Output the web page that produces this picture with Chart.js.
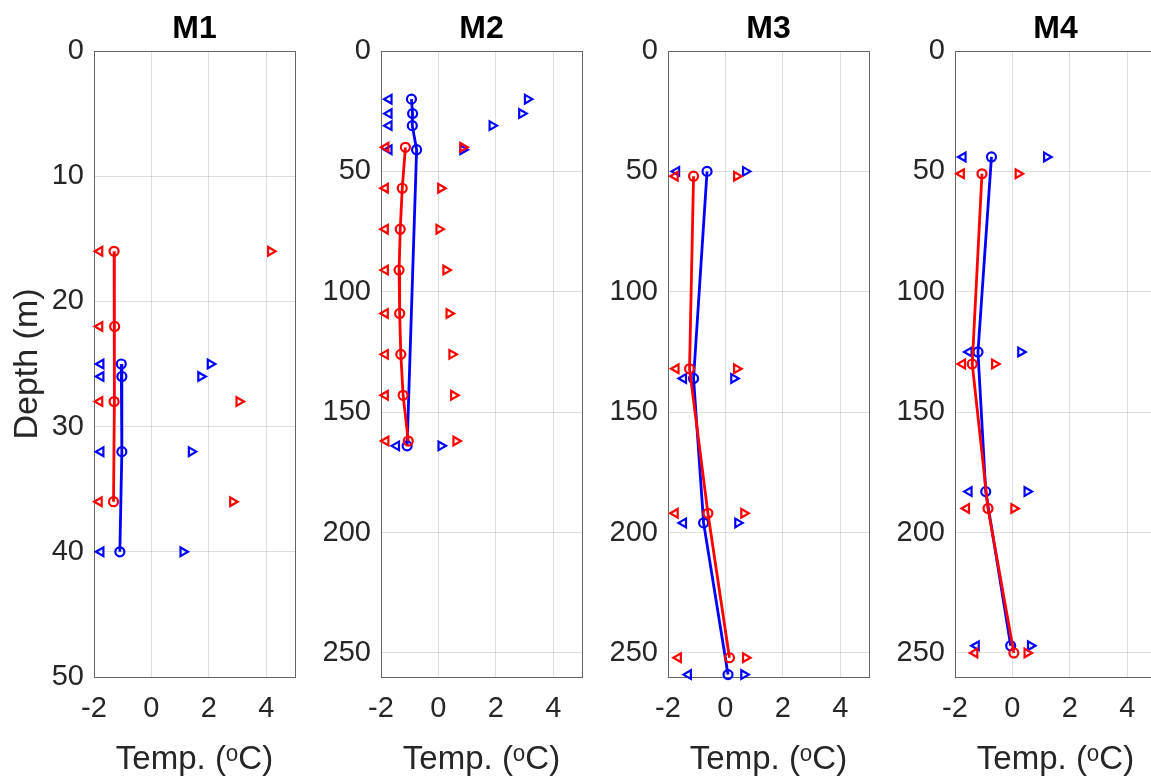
<!DOCTYPE html>
<html>
<head>
<meta charset="utf-8">
<script src="https://cdn.jsdelivr.net/npm/chart.js"></script>
<style>
  html, body { margin: 0; padding: 0; background: #fff; overflow: hidden; }
  #wrap { position: relative; width: 1151px; height: 780px; overflow: hidden; }
  canvas { position: absolute; top: 0; }
</style>
</head>
<body>
<div id="wrap">
  <canvas id="m1"></canvas>
  <canvas id="m2"></canvas>
  <canvas id="m3"></canvas>
  <canvas id="m4"></canvas>
</div>
<script>
// depth (m) and temperature (degC)
const m1RedDepth = [16, 22, 28, 36];
const m1RedMean = [-1.3, -1.28, -1.3, -1.32];
const m1RedMin = [-1.8, -1.8, -1.8, -1.82];
const m1RedMax = [4.15, null, 3.05, 2.83];
const m1BlueDepth = [25, 26, 32, 40];
const m1BlueMean = [-1.05, -1.03, -1.03, -1.1];
const m1BlueMin = [-1.76, -1.76, -1.76, -1.76];
const m1BlueMax = [2.05, 1.72, 1.39, 1.1];

const m2RedDepth = [40, 57, 74, 91, 109, 126, 143, 162];
const m2RedMean = [-1.15, -1.26, -1.33, -1.37, -1.35, -1.31, -1.23, -1.05];
const m2RedMin = [-1.83, -1.85, -1.85, -1.85, -1.85, -1.85, -1.85, -1.83];
const m2RedMax = [0.85, 0.08, 0.02, 0.26, 0.37, 0.47, 0.53, 0.61];
const m2BlueDepth = [20, 26, 31, 41, 164];
const m2BlueMean = [-0.94, -0.9, -0.91, -0.76, -1.09];
const m2BlueMin = [-1.72, -1.72, -1.72, -1.72, -1.46];
const m2BlueMax = [3.1, 2.9, 1.87, 0.85, 0.09];

const m3RedDepth = [52, 132, 192, 252];
const m3RedMean = [-1.11, -1.25, -0.61, 0.14];
const m3RedMin = [-1.75, -1.72, -1.75, -1.64];
const m3RedMax = [0.39, 0.39, 0.64, 0.7];
const m3BlueDepth = [50, 136, 196, 259];
const m3BlueMean = [-0.64, -1.11, -0.76, 0.09];
const m3BlueMin = [-1.7, -1.46, -1.46, -1.29];
const m3BlueMax = [0.7, 0.29, 0.43, 0.64];

const m4RedDepth = [51, 130, 190, 250];
const m4RedMean = [-1.06, -1.4, -0.85, 0.05];
const m4RedMin = [-1.78, -1.74, -1.6, -1.31];
const m4RedMax = [0.2, -0.62, 0.05, 0.51];
const m4BlueDepth = [44, 125, 183, 247];
const m4BlueMean = [-0.73, -1.2, -0.93, -0.06];
const m4BlueMin = [-1.72, -1.51, -1.51, -1.26];
const m4BlueMax = [1.19, 0.29, 0.51, 0.63];

const xTicks = [-2, 0, 2, 4];
const m1DepthTicks = [0, 10, 20, 30, 40, 50];
const deepTicks = [0, 50, 100, 150, 200, 250];

const RED = "#ff0000";
const BLUE = "#0000ff";
const FONT = "'Liberation Sans', Arial, Helvetica, sans-serif";
const TEXT = "#262626";

const pts = (xs, ys) => xs.map((x, i) => ({ x, y: ys[i] })).filter(p => p.x !== null);

function lineSet(xs, ys, color) {
  return {
    data: pts(xs, ys), showLine: true, borderColor: color, borderWidth: 2.8,
    pointStyle: "circle", pointRadius: 4.5, pointBorderWidth: 2.2,
    pointBorderColor: color, pointBackgroundColor: "rgba(0,0,0,0)", clip: false
  };
}
function triSet(xs, ys, color, rot) {
  return {
    data: pts(xs, ys), showLine: false, pointStyle: "triangle", pointRotation: rot,
    pointRadius: 5, pointBorderWidth: 2.2, pointBorderColor: color,
    pointBackgroundColor: "rgba(0,0,0,0)", clip: false
  };
}

// box around each axes like MATLAB "box on"
const boxPlugin = {
  id: "box",
  beforeDatasetsDraw(chart) {
    const a = chart.chartArea, c = chart.ctx;
    c.save();
    c.strokeStyle = "#666666";
    c.lineWidth = 1;
    c.strokeRect(Math.round(a.left) + 0.5, Math.round(a.top) + 0.5,
                 Math.round(a.right - a.left), Math.round(a.bottom - a.top));
    c.restore();
  }
};

const panels = [
  { id: "m1", title: "M1", plotLeft: 94, axisW: 94, ymax: 50, yticks: m1DepthTicks, ytitle: "Depth (m)",
    red: [m1RedDepth, m1RedMean, m1RedMin, m1RedMax], blue: [m1BlueDepth, m1BlueMean, m1BlueMin, m1BlueMax] },
  { id: "m2", title: "M2", plotLeft: 381, axisW: 75, ymax: 260, yticks: deepTicks, ytitle: "",
    red: [m2RedDepth, m2RedMean, m2RedMin, m2RedMax], blue: [m2BlueDepth, m2BlueMean, m2BlueMin, m2BlueMax] },
  { id: "m3", title: "M3", plotLeft: 668, axisW: 75, ymax: 260, yticks: deepTicks, ytitle: "",
    red: [m3RedDepth, m3RedMean, m3RedMin, m3RedMax], blue: [m3BlueDepth, m3BlueMean, m3BlueMin, m3BlueMax] },
  { id: "m4", title: "M4", plotLeft: 955, axisW: 75, ymax: 260, yticks: deepTicks, ytitle: "",
    red: [m4RedDepth, m4RedMean, m4RedMin, m4RedMax], blue: [m4BlueDepth, m4BlueMean, m4BlueMin, m4BlueMax] }
];

const PLOT_W = 201;
const H = 780;

panels.forEach(p => {
  const cv = document.getElementById(p.id);
  const w = p.axisW + PLOT_W + 8;
  cv.width = w; cv.height = H;
  cv.style.left = (p.plotLeft - p.axisW) + "px";
  cv.style.width = w + "px"; cv.style.height = H + "px";

  const [rd, rm, rmin, rmax] = p.red;
  const [bd, bm, bmin, bmax] = p.blue;

  new Chart(cv.getContext("2d"), {
    type: "scatter",
    data: {
      datasets: [
        lineSet(rm, rd, RED),
        triSet(rmin, rd, RED, -90),
        triSet(rmax, rd, RED, 90),
        lineSet(bm, bd, BLUE),
        triSet(bmin, bd, BLUE, -90),
        triSet(bmax, bd, BLUE, 90)
      ]
    },
    plugins: [boxPlugin],
    options: {
      responsive: false,
      animation: false,
      devicePixelRatio: 1,
      layout: { padding: { left: 0, right: 8, top: 0, bottom: 0 } },
      plugins: {
        legend: { display: false },
        tooltip: { enabled: false },
        title: {
          display: true, text: p.title, color: "#000", fullSize: false,
          font: { family: FONT, size: 32, weight: "bold", lineHeight: 1.2 },
          padding: { top: 9.5, bottom: 3.1 }
        }
      },
      scales: {
        x: {
          type: "linear", min: -2, max: 5,
          afterBuildTicks: s => { s.ticks = xTicks.map(v => ({ value: v })); },
          afterFit: s => { s.height = 103; },
          grid: { color: "rgba(0,0,0,0.13)", drawTicks: false },
          border: { display: false },
          ticks: { color: TEXT, font: { family: FONT, size: 29 }, padding: 15, maxRotation: 0 },
          title: {
            display: true, text: "Temp. (\u1D52C)", color: TEXT,
            font: { family: FONT, size: 33, lineHeight: 1.2 }, padding: { top: 0, bottom: 0 }
          }
        },
        y: {
          type: "linear", min: 0, max: p.ymax, reverse: true,
          afterBuildTicks: s => { s.ticks = p.yticks.map(v => ({ value: v })); },
          afterFit: s => { s.width = p.axisW; },
          grid: { color: "rgba(0,0,0,0.13)", drawTicks: false },
          border: { display: false },
          ticks: { color: TEXT, font: { family: FONT, size: 29 }, padding: 10 },
          title: {
            display: p.ytitle !== "", text: p.ytitle, color: TEXT,
            font: { family: FONT, size: 34, lineHeight: 1.2 }, padding: { top: 7, bottom: 0 }
          }
        }
      }
    }
  });
});
</script>
</body>
</html>
